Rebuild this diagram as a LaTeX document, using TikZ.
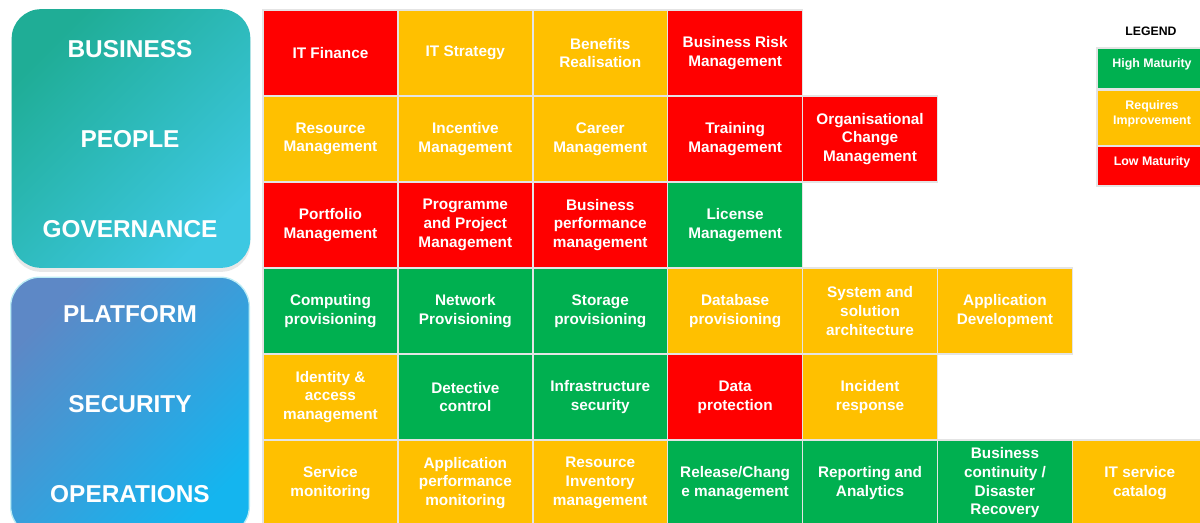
\documentclass[tikz,border=0pt]{standalone}
\usepackage{fontspec}
\setmainfont{Liberation Sans}
\usepackage{xcolor}
\usetikzlibrary{positioning,shadows}
\definecolor{lowcolor}{HTML}{FF0000}
\definecolor{midcolor}{HTML}{FFC000}
\definecolor{highcolor}{HTML}{00B050}
\definecolor{gridcolor}{HTML}{E4E4E4}
\definecolor{tealA}{HTML}{1FAD96}
\definecolor{tealB}{HTML}{3DC8E2}
\definecolor{blueA}{HTML}{5D88C6}
\definecolor{blueB}{HTML}{14B5EF}
\tikzset{
    cell/.style={rectangle, draw=gridcolor, line width=1.2pt, minimum width=101.2pt, minimum height=64.5pt, inner sep=2pt, align=center, text=white, font=\fontsize{11.5}{14}\selectfont\bfseries},
    low/.style={cell, fill=lowcolor},
    mid/.style={cell, fill=midcolor},
    high/.style={cell, fill=highcolor},
    panel/.style={rectangle, rounded corners=22pt, minimum width=179pt, minimum height=194pt},
    panel label/.style={text=white, font=\fontsize{18.3}{22}\selectfont\bfseries},
    legend box/.style={rectangle, draw=gridcolor, line width=0.8pt, minimum width=82.5pt},
    legend text/.style={text=white, align=center, font=\fontsize{9.3}{11.2}\selectfont\bfseries}
}

\begin{document}
\begin{tikzpicture}[x=0.75pt, y=-0.75pt]
    \useasboundingbox (0,0) rectangle (1200,522);

    % Left panels
    \node[panel, left color=tealA, right color=tealB, shading angle=45,
          drop shadow={opacity=0.18, shadow xshift=0pt, shadow yshift=-3pt}] (top-panel) at (131,138.5) {};
    \node[panel, draw=tealB!35, line width=1pt, left color=blueA, right color=blueB, shading angle=45] (bottom-panel) at (130,406.5) {};

    \node[panel label] (business) at (130,49) {BUSINESS};
    \node[panel label] (people) at (130,139) {PEOPLE};
    \node[panel label] (governance) at (130,229) {GOVERNANCE};
    \node[panel label] (platform) at (130,314) {PLATFORM};
    \node[panel label] (security) at (130,404) {SECURITY};
    \node[panel label] (operations) at (130,494) {OPERATIONS};

    % Maturity grid
    \foreach \r/\c/\lvl/\txt in {
        1/1/low/IT Finance, 1/2/mid/IT Strategy, 1/3/mid/Benefits\\Realisation, 1/4/low/Business Risk\\Management,
        2/1/mid/Resource\\Management, 2/2/mid/Incentive\\Management, 2/3/mid/Career\\Management, 2/4/low/Training\\Management, 2/5/low/Organisational\\Change\\Management,
        3/1/low/Portfolio\\Management, 3/2/low/Programme\\and Project\\Management, 3/3/low/Business\\performance\\management, 3/4/high/License\\Management,
        4/1/high/Computing\\provisioning, 4/2/high/Network\\Provisioning, 4/3/high/Storage\\provisioning, 4/4/mid/Database\\provisioning, 4/5/mid/System and\\solution\\architecture, 4/6/mid/Application\\Development,
        5/1/mid/Identity \&\\access\\management, 5/2/high/Detective\\control, 5/3/high/Infrastructure\\security, 5/4/low/Data\\protection, 5/5/mid/Incident\\response,
        6/1/mid/Service\\monitoring, 6/2/mid/Application\\performance\\monitoring, 6/3/mid/Resource\\Inventory\\management, 6/4/high/{Release/Chang\\e management}, 6/5/high/Reporting and\\Analytics, 6/6/high/{Business\\continuity /\\Disaster\\Recovery}, 6/7/mid/IT service\\catalog
    } {
        \node[\lvl] (cell-\r-\c) at ({263+134.9*(\c-0.5)},{10+86*(\r-0.5)}) {\txt};
    }

    % Legend
    \node[font=\fontsize{9.2}{11}\selectfont\bfseries] (legend) at (1151,31) {LEGEND};
    \node[legend box, fill=highcolor, minimum height=30.75pt,
          label={[legend text, anchor=north, yshift=-5pt]north:High Maturity}] (legend-high) at (1152,68.5) {};
    \node[legend box, fill=midcolor, minimum height=42pt,
          label={[legend text, anchor=north, yshift=-4.5pt]north:Requires\\Improvement}] (legend-mid) at (1152,118) {};
    \node[legend box, fill=lowcolor, minimum height=30pt,
          label={[legend text, anchor=north, yshift=-5pt]north:Low Maturity}] (legend-low) at (1152,166) {};
\end{tikzpicture}
\end{document}
